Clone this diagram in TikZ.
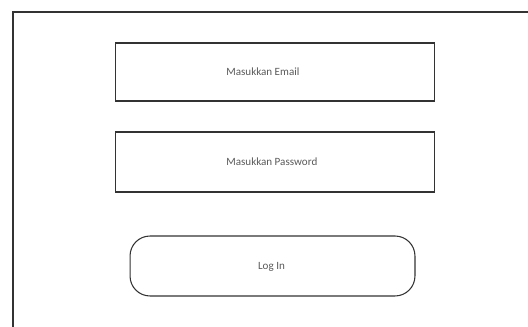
\documentclass[tikz,border=0pt]{standalone}
\usepackage{fontspec}
\setmainfont{Carlito}
\usetikzlibrary{positioning}

\begin{document}
\begin{tikzpicture}[x=0.02cm, y=-0.02cm,
    field/.style={draw=black!80, line width=0.6pt, minimum width=6.4cm},
    button/.style={field, rounded corners=0.4cm, minimum width=5.7cm, minimum height=1.2cm},
    caption/.style={font=\fontsize{6.3}{7}\selectfont, text=black!65, inner sep=0pt}]
  \useasboundingbox (0, 0) rectangle (528, 327);

  \draw[draw=black!80, line width=0.6pt] (13, 330) -- (13, 12) -- (530, 12);

  \node[field, minimum height=1.16cm] (email) at (275, 72) {};
  \node[field, minimum height=1.2cm] (password) at (275, 162) {};
  \node[button] (login) at (272.5, 266) {};

  \node[caption, anchor=west] (emailtext) at (226, 71.5) {Masukkan Email};
  \node[caption, anchor=west] (passwordtext) at (226, 161.5) {Masukkan Password};
  \node[caption] (logintext) at (271.5, 266.5) {Log In};
\end{tikzpicture}
\end{document}
